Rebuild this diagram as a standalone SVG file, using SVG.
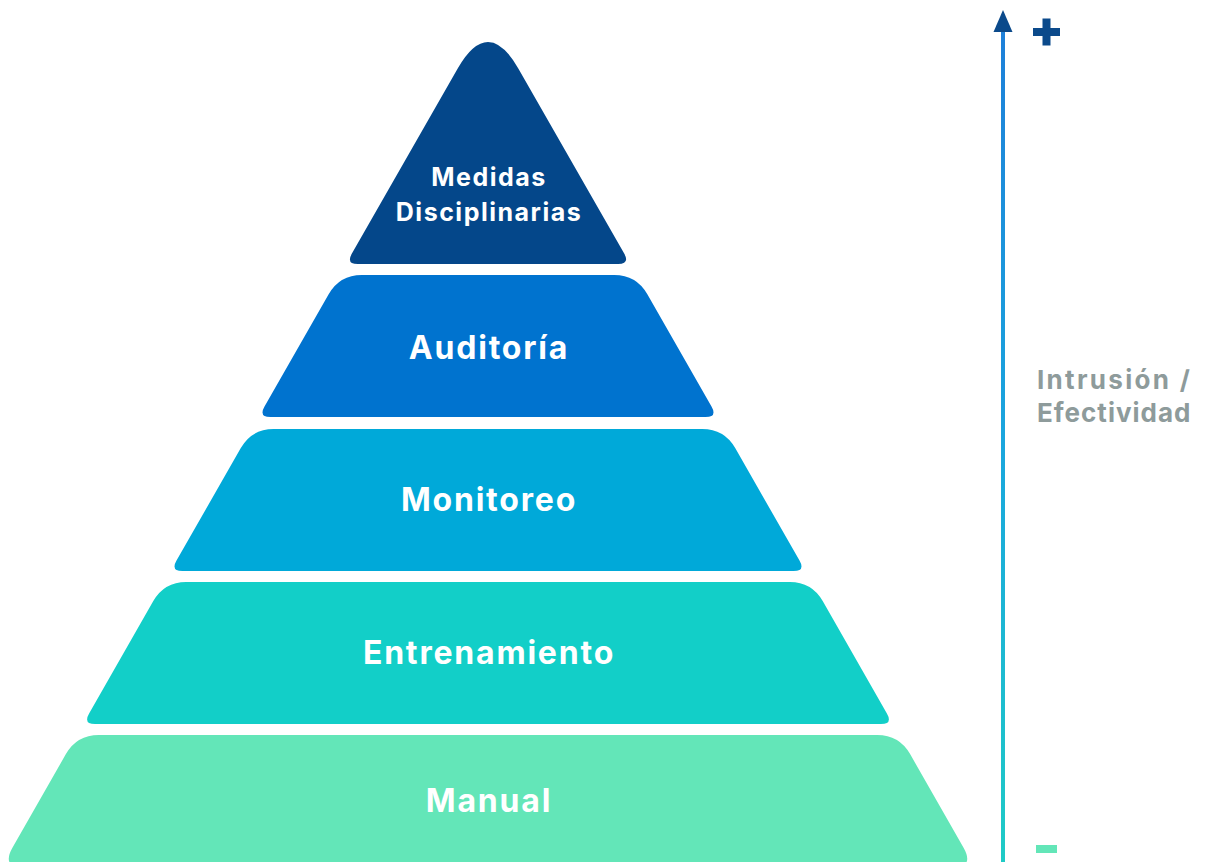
<svg xmlns="http://www.w3.org/2000/svg" width="1210" height="862" viewBox="0 0 1210 862">
<style>
.lbl{font-family:Inter,"Open Sans","Liberation Sans",sans-serif;font-weight:700;fill:#ffffff;text-anchor:middle;dominant-baseline:central;font-size:32px;letter-spacing:1.8px}
.sm{font-size:25px;letter-spacing:1.5px}
.axis{font-family:Inter,"Open Sans","Liberation Sans",sans-serif;font-weight:700;fill:#8E9B9B;font-size:26px}
</style>
<defs>
<linearGradient id="axg" gradientUnits="userSpaceOnUse" x1="0" y1="20" x2="0" y2="862">
<stop offset="0" stop-color="#1E7FD9"/>
<stop offset="0.5" stop-color="#1AA6DE"/>
<stop offset="1" stop-color="#1FCBC6"/>
</linearGradient>
</defs>
<rect width="1210" height="862" fill="#ffffff"/>
<g id="node-medidas">
<path d="M457.7,68.4 Q488,15.4 518.3,68.4 L624.2,253.6 Q630.1,264 618.1,264 L357.9,264 Q345.9,264 351.9,253.6 Z" fill="#04478A"/>
<text class="lbl sm" x="489" y="177">Medidas</text>
<text class="lbl sm" x="489" y="212">Disciplinarias</text>
</g>
<g id="node-auditoria">
<path d="M361.7,275 L614.3,275 Q636.3,275 647.2,294.1 L711.5,406.6 Q717.5,417 705.5,417 L270.5,417 Q258.5,417 264.5,406.6 L328.8,294.1 Q339.7,275 361.7,275 Z" fill="#0073CF"/>
<text class="lbl" x="489" y="347">Auditoría</text>
</g>
<g id="node-monitoreo">
<path d="M273.7,429 L702.3,429 Q724.3,429 735.2,448.1 L799.5,560.6 Q805.5,571 793.5,571 L182.5,571 Q170.5,571 176.5,560.6 L240.8,448.1 Q251.7,429 273.7,429 Z" fill="#00A9D9"/>
<text class="lbl" x="489" y="499">Monitoreo</text>
</g>
<g id="node-entrenamiento">
<path d="M186.2,582 L789.8,582 Q811.8,582 822.7,601.1 L886.9,713.6 Q892.9,724 880.9,724 L95.1,724 Q83.1,724 89.1,713.6 L153.3,601.1 Q164.2,582 186.2,582 Z" fill="#12CFC8"/>
<text class="lbl" x="489" y="652">Entrenamiento</text>
</g>
<g id="node-manual">
<path d="M98.8,735 L877.2,735 Q899.2,735 910.1,754.1 L963.3,847.2 Q975.2,868 951.2,868 L24.8,868 Q0.8,868 12.7,847.2 L65.9,754.1 Q76.8,735 98.8,735 Z" fill="#63E6B8"/>
<text class="lbl" x="489" y="800">Manual</text>
</g>
<g id="connectors">
<rect x="1001" y="26" width="4" height="836" fill="url(#axg)"/>
<polygon points="1003,10 1012.5,32 993.5,32" fill="#0B4A8B"/>
</g>
<g id="axis-labels">
<rect x="1033" y="28" width="27" height="8" fill="#0B4A8B"/>
<rect x="1042.5" y="18.5" width="8" height="27" fill="#0B4A8B"/>
<rect x="1036" y="845" width="21" height="8" fill="#63E6B8"/>
<text class="axis" x="1037" y="389" letter-spacing="2.3">Intrusión /</text>
<text class="axis" x="1037" y="422" letter-spacing="1.0">Efectividad</text>
</g>
</svg>
